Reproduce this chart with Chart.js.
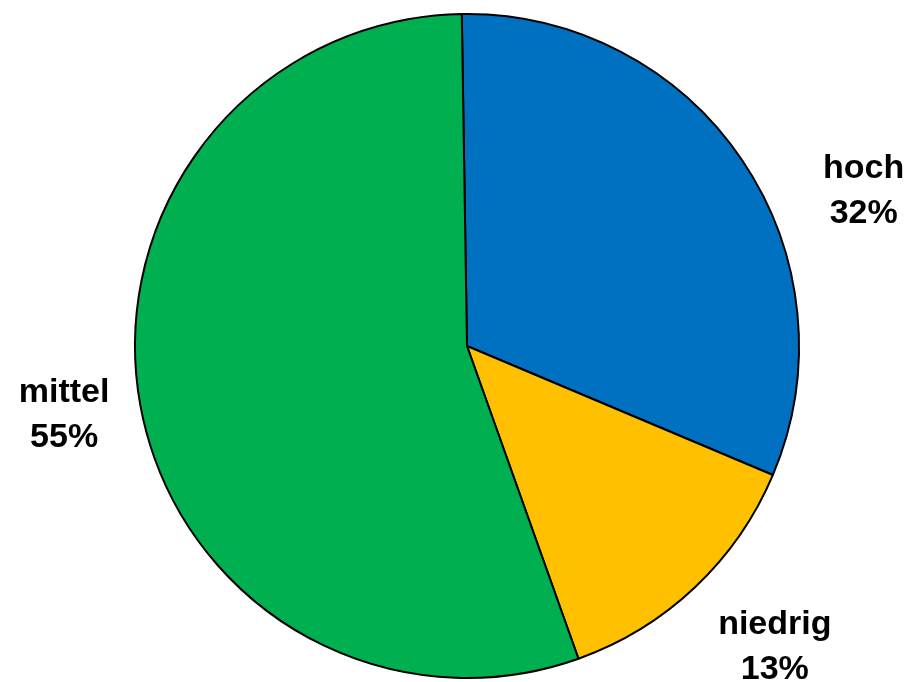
<!DOCTYPE html>
<html>
<head>
<meta charset="utf-8">
<script src="https://cdn.jsdelivr.net/npm/chart.js@4"></script>
<style>
  html, body { margin: 0; padding: 0; background: #fff; }
  #wrap { width: 916px; height: 682px; }
</style>
</head>
<body>
<div id="wrap"><canvas id="pieChart" width="916" height="682"></canvas></div>
<script>
const categories = ['hoch', 'niedrig', 'mittel'];
const shares = [31.6, 13.2, 55.2];          // measured slice sizes, in %
const shareLabels = ['32%', '13%', '55%'];  // as printed
const sliceColors = ['#0070C0', '#FFC000', '#00B050'];

// where each label sits: degrees clockwise from 12 o'clock, distance in radii
const labelAngle = [68.3, 134.1, 260.6];
const labelDist = [1.286, 1.291, 1.23];

const outsideLabels = {
    id: 'outsideLabels',
    afterDatasetsDraw(chart) {
        const { ctx } = chart;
        const meta = chart.getDatasetMeta(0);
        ctx.save();
        ctx.font = 'bold 34px "Liberation Sans", Arial, sans-serif';
        ctx.fillStyle = '#000';
        ctx.textAlign = 'center';
        ctx.textBaseline = 'alphabetic';
        meta.data.forEach((arc, i) => {
            const a = (labelAngle[i] - 90) * Math.PI / 180;
            const r = arc.outerRadius * labelDist[i];
            const x = arc.x + Math.cos(a) * r;
            const y = arc.y + Math.sin(a) * r;
            ctx.fillText(categories[i], x, y - 10.5);
            ctx.fillText(shareLabels[i], x, y + 34.5);
        });
        ctx.restore();
    }
};

new Chart(document.getElementById('pieChart'), {
    type: 'pie',
    data: {
        labels: categories,
        datasets: [{
            data: shares,
            backgroundColor: sliceColors,
            borderColor: '#000',
            borderWidth: 2
        }]
    },
    options: {
        responsive: false,
        animation: false,
        rotation: -0.9,
        layout: { padding: { top: 13, bottom: 3, left: 18, right: 0 } },
        plugins: {
            legend: { display: false },
            tooltip: { enabled: false }
        }
    },
    plugins: [outsideLabels]
});
</script>
</body>
</html>
